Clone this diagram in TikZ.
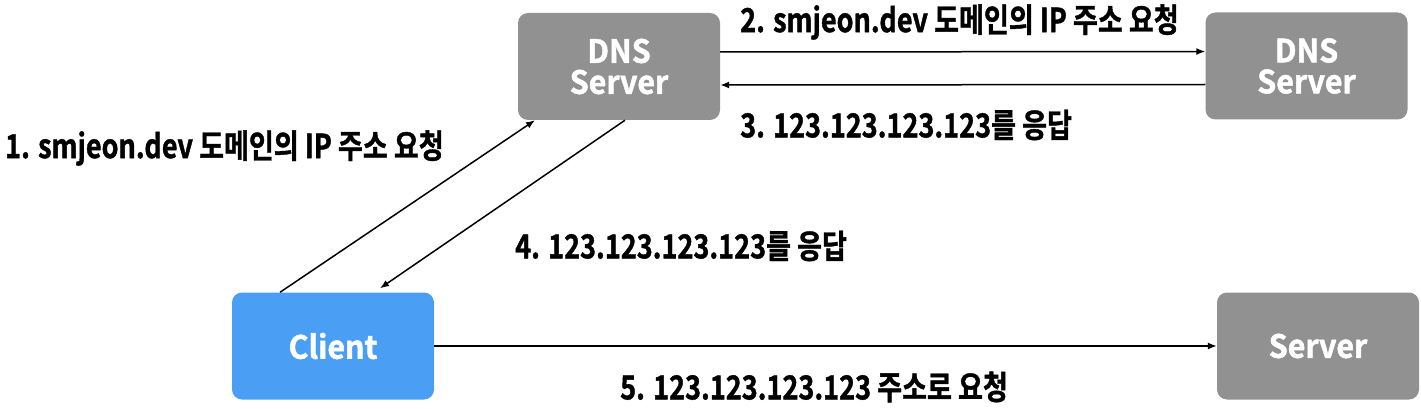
\documentclass[tikz,border=0pt]{standalone}
\usepackage{fontspec}
\setmainfont{Noto Sans CJK KR}[BoldFont={* Bold}]
\newfontfamily\lblfont{Noto Sans CJK KR Bold}[FakeStretch=0.82,FakeBold=1.2]
\newfontfamily\boxfont{Noto Sans CJK KR Bold}[FakeStretch=0.95,FakeBold=1.5]
\usetikzlibrary{arrows.meta}
\definecolor{boxgray}{HTML}{919191}
\definecolor{boxblue}{HTML}{4A9FF5}
\tikzset{
  srvbox/.style={fill=boxgray, draw=none, rounded corners=10pt, minimum width=202pt, minimum height=107pt, text=white, font=\boxfont\fontsize{32}{31}\selectfont, align=center, inner sep=0pt},
  clibox/.style={srvbox, fill=boxblue},
  arr/.style={line width=1.5pt, -{Latex[length=9pt,width=7pt]}},
  lbl/.style={anchor=west, font=\lblfont\fontsize{33}{35}\selectfont, inner sep=0pt, text=black}
}
\begin{document}
\begin{tikzpicture}[x=1pt,y=-1pt]
\useasboundingbox (0,0) rectangle (1421,409);
\node[srvbox] (dns1) at (619,66.5) {DNS\\Server};
\node[srvbox] (dns2) at (1306.5,66) {DNS\\Server};
\node[clibox] (client) at (333,346) {Client};
\node[srvbox] (server) at (1318,346) {Server};

\draw[arr] ([yshift=14.5pt]dns1.east) -- ([yshift=14.5pt]dns2.west);
\draw[arr] ([yshift=-18.5pt]dns2.west) -- ([yshift=-18.5pt]dns1.east);
\draw[arr] ([xshift=-53pt]client.north) -- ([xshift=-84pt]dns1.south);
\draw[arr] ([xshift=6pt]dns1.south) -- ([xshift=47pt,yshift=4pt]client.north);
\draw[arr] (client.east) -- (server.west);

\node[lbl] (l1) at (5,148) {1. smjeon.dev 도메인의 IP 주소 요청};
\node[lbl] (l2) at (740,22) {2. smjeon.dev 도메인의 IP 주소 요청};
\node[lbl] (l3) at (740,125) {3. 123.123.123.123를 응답};
\node[lbl] (l4) at (515,246) {4. 123.123.123.123를 응답};
\node[lbl] (l5) at (620,387) {5. 123.123.123.123 주소로 요청};
\end{tikzpicture}
\end{document}
